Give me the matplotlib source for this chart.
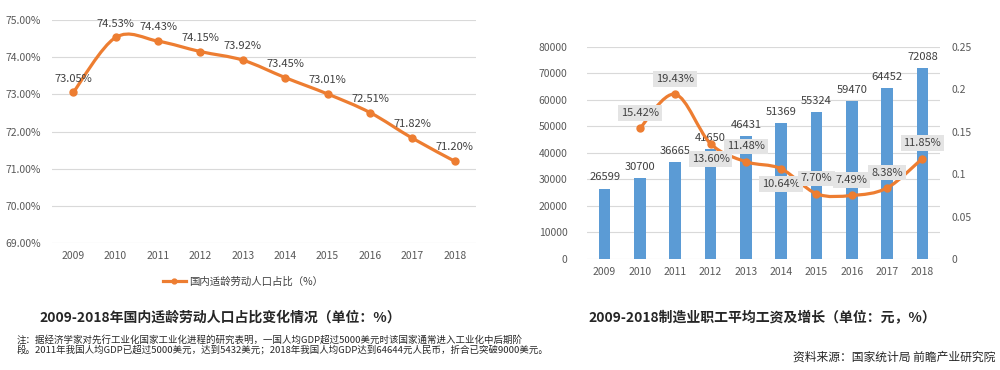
import matplotlib
matplotlib.use('Agg')
import matplotlib.pyplot as plt
from matplotlib.path import Path
from matplotlib.patches import PathPatch
from matplotlib.lines import Line2D
from matplotlib.ticker import FuncFormatter

plt.rcParams['font.family'] = ['Noto Sans CJK SC', 'DejaVu Sans']

# Dados
anos = ['2009', '2010', '2011', '2012', '2013', '2014', '2015', '2016', '2017', '2018']
labor_share = [73.05, 74.53, 74.43, 74.15, 73.92, 73.45, 73.01, 72.51, 71.82, 71.20]
wages = [26599, 30700, 36665, 41650, 46431, 51369, 55324, 59470, 64452, 72088]
wage_growth = [0.1542, 0.1943, 0.1360, 0.1148, 0.1064, 0.0770, 0.0749, 0.0838, 0.1185]  # 2010-2018
growth_years = anos[1:]
growth_label_below = [False, False, True, False, True, False, False, False, False]

left_title = '2009-2018年国内适龄劳动人口占比变化情况（单位：%）'
right_title = '2009-2018制造业职工平均工资及增长（单位：元，%）'
legend_label = '国内适龄劳动人口占比（%）'
note1 = '注：据经济学家对先行工业化国家工业化进程的研究表明，一国人均GDP超过5000美元时该国家通常进入工业化中后期阶'
note2 = '段。2011年我国人均GDP已超过5000美元，达到5432美元；2018年我国人均GDP达到64644元人民币，折合已突破9000美元。'
source = '资料来源：国家统计局 前瞻产业研究院'

orange = '#ED7D31'
blue = '#5B9BD5'
grid_c = '#D9D9D9'
tick_c = '#595959'


def smooth_path(xs, ys):
    # curva suavizada estilo Excel (Bezier a partir dos pontos)
    pts = list(zip(xs, ys))
    n = len(pts)
    verts = [pts[0]]
    codes = [Path.MOVETO]
    for i in range(n - 1):
        p0 = pts[i - 1] if i > 0 else pts[i]
        p1 = pts[i]
        p2 = pts[i + 1]
        p3 = pts[i + 2] if i + 2 < n else pts[i + 1]
        c1 = (p1[0] + (p2[0] - p0[0]) / 6, p1[1] + (p2[1] - p0[1]) / 6)
        c2 = (p2[0] - (p3[0] - p1[0]) / 6, p2[1] - (p3[1] - p1[1]) / 6)
        verts += [c1, c2, p2]
        codes += [Path.CURVE4] * 3
    return Path(verts, codes)


def clean_axes(ax):
    for s in ax.spines.values():
        s.set_visible(False)
    ax.tick_params(length=0, colors=tick_c, labelsize=7.5)


fig = plt.figure(figsize=(10, 3.7), dpi=100)

# ---------------- Grafico esquerdo ----------------
ax1 = fig.add_axes([0.052, 0.343, 0.424, 0.603])
x = list(range(len(anos)))
ax1.set_xlim(-0.5, len(anos) - 0.5)
ax1.set_ylim(69, 75)
ax1.set_yticks([69, 70, 71, 72, 73, 74, 75])
ax1.yaxis.set_major_formatter(FuncFormatter(lambda v, p: '%.2f%%' % v))
ax1.set_xticks(x)
ax1.set_xticklabels(anos)
ax1.grid(axis='y', color=grid_c, lw=0.8)
ax1.set_axisbelow(True)
clean_axes(ax1)
ax1.tick_params(axis='y', pad=8)
ax1.tick_params(axis='x', pad=6)

ax1.add_patch(PathPatch(smooth_path(x, labor_share), fill=False, ec=orange, lw=2.3, zorder=3,
                        capstyle='round', joinstyle='round'))
ax1.plot(x, labor_share, 'o', color=orange, ms=5, zorder=4)
for xi, v in zip(x, labor_share):
    ax1.annotate('%.2f%%' % v, (xi, v), xytext=(0, 10), textcoords='offset points',
                 ha='center', va='center', fontsize=8, color='#404040', zorder=5)

handle = Line2D([], [], color=orange, lw=2.3, marker='o', ms=3.5)
fig.legend([handle], [legend_label], loc='center', bbox_to_anchor=(0.243, 0.238), frameon=False,
           fontsize=7.5, handlelength=2.2, handletextpad=0.3, labelcolor='#404040')

fig.text(0.22, 0.141, left_title, ha='center', va='center', fontsize=10, weight='bold', color='#262626')
fig.text(0.017, 0.081, note1, ha='left', va='center', fontsize=6.8, color='#262626')
fig.text(0.017, 0.054, note2, ha='left', va='center', fontsize=6.8, color='#262626')

# ---------------- Grafico direito ----------------
ax2 = fig.add_axes([0.587, 0.300, 0.353, 0.573])
ax2.set_xlim(-0.5, len(anos) - 0.5)
ax2.set_ylim(0, 80000)
ax2.set_yticks(range(0, 80001, 10000))
ax2.set_xticks(x)
ax2.set_xticklabels(anos)
ax2.grid(axis='y', color=grid_c, lw=0.8)
ax2.set_axisbelow(True)
clean_axes(ax2)
ax2.tick_params(axis='y', pad=14)
ax2.tick_params(axis='x', pad=6)
ax2.bar(x, wages, width=0.33, color=blue, zorder=2)
for xi, v in zip(x, wages):
    ax2.annotate(str(v), (xi, v), xytext=(0, 8), textcoords='offset points',
                 ha='center', va='center', fontsize=8, color='#404040', zorder=3)

ax3 = ax2.twinx()
ax3.set_ylim(0, 0.25)
ax3.set_yticks([0, 0.05, 0.1, 0.15, 0.2, 0.25])
ax3.yaxis.set_major_formatter(FuncFormatter(lambda v, p: '%g' % round(v, 2)))
clean_axes(ax3)
ax3.tick_params(axis='y', pad=8)
gx = x[1:]
ax3.add_patch(PathPatch(smooth_path(gx, wage_growth), fill=False, ec=orange, lw=2.3, zorder=3,
                        capstyle='round', joinstyle='round'))
ax3.plot(gx, wage_growth, 'o', color=orange, ms=5, zorder=4)
for xi, v, below in zip(gx, wage_growth, growth_label_below):
    off = -11 if below else 11
    ax3.annotate('%.2f%%' % (v * 100), (xi, v), xytext=(0, off), textcoords='offset points',
                 ha='center', va='center', fontsize=8, color='#404040', zorder=6,
                 bbox=dict(boxstyle='square,pad=0.25', fc='#E4E4E4', ec='none'))

fig.text(0.762, 0.141, right_title, ha='center', va='center', fontsize=10, weight='bold', color='#262626')
fig.text(0.995, 0.035, source, ha='right', va='center', fontsize=8.5, color='#262626')

plt.savefig('out.png', dpi=100)
